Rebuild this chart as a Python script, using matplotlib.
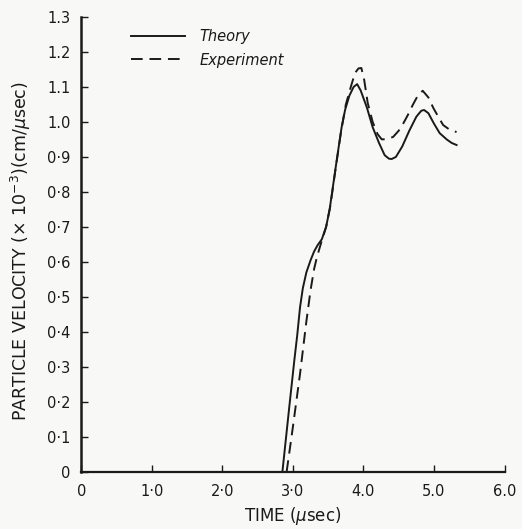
import matplotlib
matplotlib.use('Agg')
import matplotlib.pyplot as plt

# values
t_theory = [2.85, 2.95, 3.02, 3.06, 3.10, 3.14, 3.19, 3.25, 3.30, 3.35, 3.41, 3.47, 3.52, 3.57,
            3.62, 3.69, 3.74, 3.80, 3.86, 3.91, 3.96, 4.05, 4.13, 4.22, 4.30, 4.36,
            4.40, 4.46, 4.55, 4.65, 4.75, 4.82, 4.86, 4.92, 5.00, 5.08, 5.18, 5.25, 5.32]
v_theory = [0.0, 0.19, 0.32, 0.39, 0.47, 0.525, 0.57, 0.605, 0.63, 0.648, 0.665, 0.70, 0.75, 0.82,
            0.89, 0.985, 1.035, 1.075, 1.10, 1.108, 1.09, 1.04, 0.985, 0.94, 0.905, 0.895,
            0.894, 0.90, 0.93, 0.975, 1.015, 1.032, 1.034, 1.025, 0.995, 0.968, 0.95, 0.94, 0.934]

t_exp = [2.91, 3.0, 3.1, 3.19, 3.25, 3.30, 3.34, 3.40, 3.47, 3.53, 3.60, 3.68, 3.75,
         3.82, 3.88, 3.93, 3.97, 4.01, 4.06, 4.13, 4.20, 4.26, 4.33, 4.42, 4.50, 4.56,
         4.63, 4.70, 4.77, 4.84, 4.92, 4.99, 5.06, 5.13, 5.22, 5.32]
v_exp = [0.0, 0.13, 0.28, 0.43, 0.52, 0.58, 0.614, 0.655, 0.70, 0.76, 0.86, 0.97, 1.05,
         1.10, 1.14, 1.153, 1.154, 1.12, 1.054, 1.0, 0.965, 0.95, 0.951, 0.957, 0.975, 0.994,
         1.02, 1.049, 1.075, 1.089, 1.07, 1.04, 1.015, 0.991, 0.978, 0.971]

xticks = [0, 1, 2, 3, 4, 5, 6]
xlabels = ['0', '1·0', '2·0', '3·0', '4.0', '5.0', '6.0']
yticks = [0, 0.1, 0.2, 0.3, 0.4, 0.5, 0.6, 0.7, 0.8, 0.9, 1.0, 1.1, 1.2, 1.3]
ylabels = ['0', '0·1', '0·2', '0·3', '0·4', '0·5', '0·6', '0·7', '0·8', '0·9',
           '1.0', '1.1', '1.2', '1.3']

ink = '#1a1a1a'
bg = '#f8f8f6'

fig = plt.figure(figsize=(5.22, 5.29), dpi=100, facecolor=bg)
ax = fig.add_axes([0.156, 0.108, 0.8105, 0.86])
ax.set_facecolor(bg)

ax.plot(t_theory, v_theory, color=ink, lw=1.4, label='Theory')
ax.plot(t_exp, v_exp, color=ink, lw=1.4, linestyle=(0, (6, 3.5)), label='Experiment')

ax.set_xlim(0, 6.0)
ax.set_ylim(0, 1.3)
ax.spines['top'].set_visible(False)
ax.spines['right'].set_visible(False)
ax.spines['left'].set_linewidth(1.8)
ax.spines['bottom'].set_linewidth(1.6)
ax.spines['left'].set_color(ink)
ax.spines['bottom'].set_color(ink)

ax.set_xticks(xticks)
ax.set_xticklabels(xlabels)
ax.set_yticks(yticks)
ax.set_yticklabels(ylabels)
ax.tick_params(direction='in', length=5, width=1, colors=ink, labelsize=10.5)
ax.tick_params(axis='y', pad=8)
ax.tick_params(axis='x', pad=9)

ax.set_xlabel('TIME ($\\mu$sec)', fontsize=12, color=ink, labelpad=4)
ax.set_ylabel('PARTICLE VELOCITY ($\\times$ 10$^{-3}$)(cm/$\\mu$sec)', fontsize=12.5,
              color=ink)
ax.yaxis.set_label_coords(-0.115, 0.486)

leg = ax.legend(loc='upper left', bbox_to_anchor=(0.1, 0.99), frameon=False,
                handlelength=3.7, handletextpad=1.0, labelspacing=0.6,
                borderpad=0, prop={'style': 'italic', 'size': 10.5})
for txt in leg.get_texts():
    txt.set_color(ink)

fig.savefig('out.png', dpi=100, facecolor=bg)
